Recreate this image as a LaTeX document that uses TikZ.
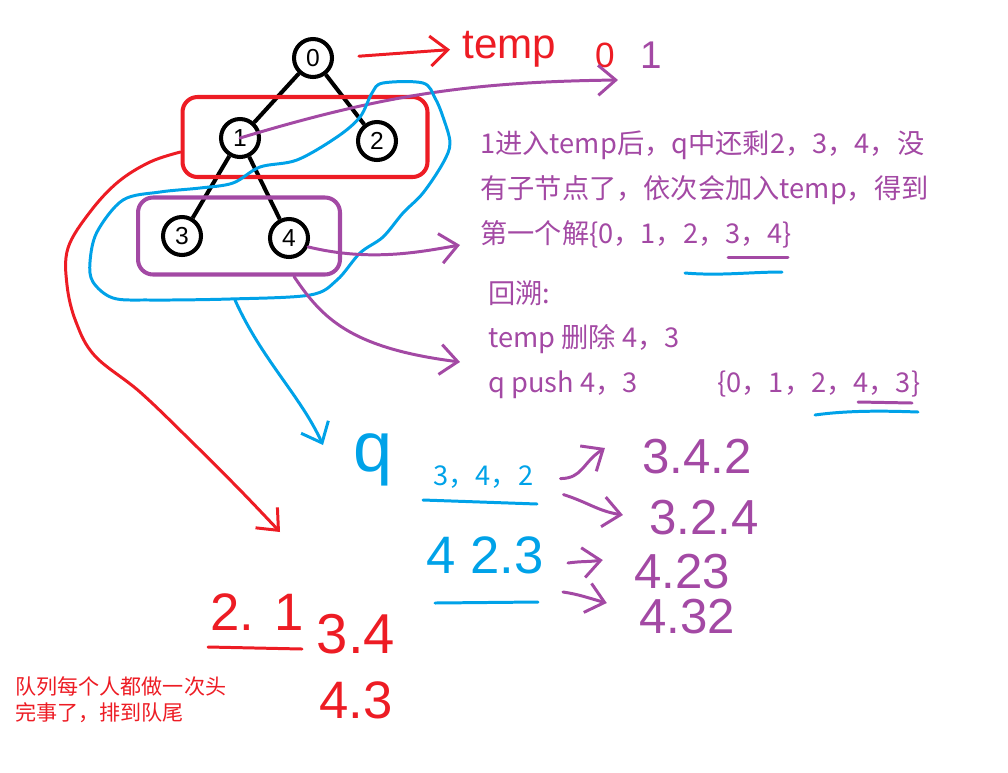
\documentclass[tikz,border=0pt]{standalone}
\usepackage{fontspec}
\setmainfont{Liberation Sans}
\newfontfamily\cjk{Noto Sans CJK SC}
\usetikzlibrary{arrows.meta, positioning}

\definecolor{pred}{RGB}{237,28,36}
\definecolor{ppurple}{RGB}{163,73,164}
\definecolor{pblue}{RGB}{0,162,232}

\tikzset{
  tnode/.style={circle, draw, line width=2.3pt, minimum size=0.76cm, inner sep=0pt, font=\fontsize{14}{14}\selectfont},
  tedge/.style={line width=2.3pt},
  layer/.style={draw, rounded corners=0.3cm, line width=2.3pt},
  pen/.style={line width=1.7pt, line cap=round, line join=round},
  barb/.style={-{Straight Barb[length=3.5mm, width=6mm]}},
  hand/.style={font=\fontsize{28}{28}\selectfont, inner sep=0pt},
  note/.style={font=\cjk\fontsize{15.5}{15.5}\selectfont, text=ppurple, anchor=base west, inner sep=0pt}
}

\begin{document}
\begin{tikzpicture}[x=0.02cm, y=-0.02cm]
  \useasboundingbox (0,0) rectangle (1008,772);

  % tree
  \node[tnode] (n0) at (313,58) {0};
  \node[tnode] (n1) at (240,138) {1};
  \node[tnode] (n2) at (377,141) {2};
  \node[tnode] (n3) at (182,236) {3};
  \node[tnode] (n4) at (289,238) {4};
  \foreach \a/\b in {n0/n1, n0/n2, n1/n3, n1/n4}
    \draw[tedge] (\a) -- (\b);

  % levels
  \node[layer, draw=pred, minimum width=4.9cm, minimum height=1.6cm] (lvl1) at (305,137) {};
  \node[layer, draw=ppurple, minimum width=4.04cm, minimum height=1.54cm] (lvl2) at (239,236) {};

  % temp
  \node[hand, text=pred, font=\fontsize{24}{24}\selectfont, anchor=base west] (tmp) at (462,58) {temp};
  \node[hand, text=pred, font=\fontsize{20}{20}\selectfont] (t0) at (605,55) {0};
  \node[hand, text=ppurple, font=\fontsize{22}{22}\selectfont, right=0.5cm of t0] (t1) {1};
  \draw[pen, pred, barb, shorten <=0.5cm, shorten >=0.24cm] (n0.east) -- (tmp.west);
  \coordinate (a1) at (618,80);
  \draw[pen, ppurple, barb] (n1.center) to[bend left=8] (a1);

  % blue loop round 2,3,4
  \draw[pen, pblue] plot[smooth cycle, tension=0.55] coordinates {
    (383,83) (423,83) (435,98) (443,117) (450,143) (443,163) (423,193) (403,213)
    (383,237) (360,253) (337,280) (310,295) (230,299) (150,300) (113,298) (93,282)
    (90,262) (97,232) (123,200) (160,192) (200,188) (233,183) (260,167) (297,160)
    (337,137) (360,117) (372,93)};
  \coordinate (qa0) at (235,300);
  \coordinate (qtip) at (323,445);
  \draw[pen, pblue, barb] (qa0) .. controls (262,360) and (300,395) .. (qtip);

  % red arrow to the queue
  \coordinate (r1) at (280,532);
  \draw[pen, pred, barb] plot[smooth, tension=0.6] coordinates {
    ([yshift=-0.3cm]lvl1.west) (150,162) (118,182) (90,212) (68,248) (67,285) (76,322)
    (95,356) (140,392) (190,440) (240,490) (r1)};

  % purple arrows from 4
  \coordinate (a2) at (460,245);
  \coordinate (a3) at (460,362);
  \draw[pen, ppurple, barb] (n4.-25) .. controls (370,262) and (420,252) .. (a2);
  \draw[pen, ppurple, barb] ([xshift=-0.96cm]lvl2.south east) .. controls (322,318) and (350,348) .. (a3);

  % notes
  \node[note] (l1) at (480,153) {1进入temp后，q中还剩2，3，4，没};
  \node[note] (l2) at (480,198) {有子节点了，依次会加入temp，得到};
  \node[note] (l3) at (480,243) {第一个解\{0，1，2，3，4\}};
  \draw[pen, ppurple] (728,257) -- (788,257);
  \draw[pen, pblue] (685,273) .. controls (720,276) and (750,272) .. (782,272);
  \node[note] (b1) at (488,303) {回溯:};
  \node[note] (b2) at (488,347) {temp 删除 4，3};
  \node[note] (b3) at (488,392) {q push 4，3};
  \node[note] (b4) at (717,392) {\{0，1，2，4，3\}};
  \draw[pen, ppurple] (858,402) -- (912,403);
  \draw[pen, pblue] (815,415) .. controls (850,410) and (890,411) .. (918,412);

  % queue
  \node[hand, text=pblue, font=\fontsize{40}{40}\selectfont] (q) at (373,460) {q};
  \node[note, text=pblue] (qa) at (433,485) {3，4，2};
  \draw[pen, pblue] (423,500) -- (537,504);
  \node[hand, text=pblue, font=\fontsize{30}{30}\selectfont] (qb) at (485,555) {4 2.3};
  \draw[pen, pblue] (435,603) -- (538,602);

  \node[hand, text=ppurple] (r342) at (697,457) {3.4.2};
  \node[hand, text=ppurple] (r324) at (704,518) {3.2.4};
  \node[hand, text=ppurple] (r423) at (682,572) {4.23};
  \node[hand, text=ppurple] (r432) at (687,617) {4.32};
  \draw[pen, ppurple, barb] ([shift={(27,2)}]qa.east) .. controls +(22,0) and +(-22,14) .. ([shift={(-37,-9)}]r342.west);
  \draw[pen, ppurple, barb] ([shift={(30,18)}]qa.east) .. controls +(25,8) and +(-25,-4) .. ([shift={(-26,-3)}]r324.west);
  \draw[pen, ppurple, barb] ([shift={(24,8)}]qb.east) .. controls +(15,-2) and +(-15,2) .. ([shift={(-31,-12)}]r423.west);
  \draw[pen, ppurple, barb] ([shift={(19,37)}]qb.east) .. controls +(15,2) and +(-15,-4) .. ([shift={(-32,-14)}]r432.west);

  % red queue
  \node[hand, text=pred, font=\fontsize{30}{30}\selectfont] (p21) at (257,612) {2. 1};
  \draw[pen, pred] (208,647) -- (302,649);
  \node[hand, text=pred, font=\fontsize{32}{32}\selectfont] (p34) at (356,634) {3.4};
  \node[hand, text=pred, font=\fontsize{30}{30}\selectfont, below=0.55cm of p34] (p43) {4.3};

  \node[font=\cjk\fontsize{12}{15}\selectfont, text=pred, align=left, anchor=north west, inner sep=0pt] (rule) at (15,676)
    {队列每个人都做一次头\\完事了，排到队尾};
\end{tikzpicture}
\end{document}
